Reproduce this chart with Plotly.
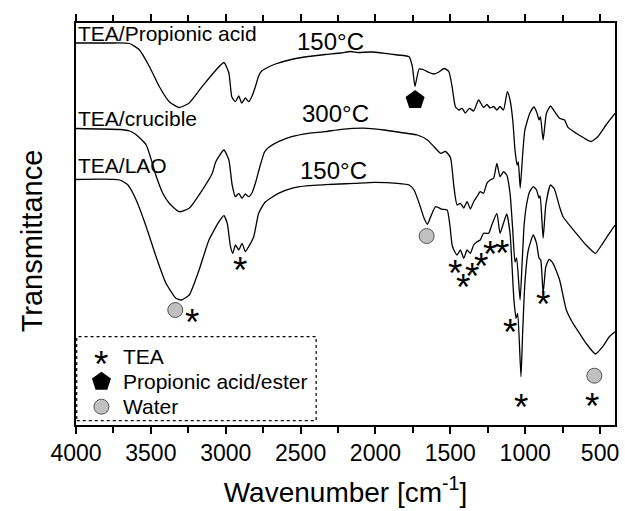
import plotly.graph_objects as go

# ---------------- data (wavenumber in cm-1, transmittance in a.u., offset) -------------
wn_pa = [4000, 3775, 3642, 3576, 3509, 3443, 3377, 3311, 3244, 3158, 3065, 3012, 2979, 2959,
         2935, 2913, 2893, 2869, 2847, 2827, 2802, 2780, 2760, 2727, 2668, 2562, 2449, 2336,
         2230, 2164, 2117, 2031, 1938, 1852, 1775, 1753, 1736, 1708, 1675, 1642, 1609, 1576,
         1541, 1510, 1488, 1466, 1443, 1421, 1400, 1372, 1344, 1311, 1278, 1256, 1234, 1211,
         1189, 1168, 1145, 1119, 1101, 1083, 1068, 1054, 1046, 1033, 1017, 1002, 969, 942,
         924, 907, 898, 880, 858, 831, 803, 770, 737, 714, 659, 604, 560, 515, 460, 400]
t_pa = [3.82, 3.82, 3.815, 3.75, 3.583, 3.383, 3.233, 3.175, 3.22, 3.383, 3.55, 3.625, 3.52, 3.28,
        3.233, 3.29, 3.22, 3.27, 3.233, 3.28, 3.383, 3.49, 3.54, 3.57, 3.61, 3.655, 3.685, 3.705,
        3.72, 3.735, 3.725, 3.73, 3.717, 3.70, 3.683, 3.58, 3.385, 3.56, 3.55, 3.525, 3.51, 3.53,
        3.565, 3.535, 3.383, 3.183, 3.15, 3.167, 3.12, 3.167, 3.14, 3.25, 3.175, 3.205, 3.17, 3.185,
        3.15, 3.185, 3.15, 3.333, 3.25, 3.05, 2.75, 2.60, 2.63, 2.37, 2.70, 2.95, 3.117, 3.18,
        3.133, 3.05, 3.083, 2.85, 3.117, 3.19, 3.133, 3.067, 3.05, 2.977, 2.917, 2.867, 2.835,
        2.883, 3.00, 3.115]

wn_cr = [4000, 3708, 3642, 3596, 3531, 3465, 3421, 3377, 3311, 3244, 3156, 3090, 3067, 3012,
         2979, 2957, 2935, 2913, 2891, 2869, 2847, 2825, 2802, 2769, 2741, 2714, 2648, 2560,
         2449, 2338, 2228, 2051, 1940, 1830, 1720, 1653, 1609, 1565, 1532, 1499, 1476, 1455,
         1433, 1410, 1388, 1366, 1344, 1322, 1300, 1278, 1256, 1234, 1211, 1189, 1168, 1145,
         1123, 1101, 1083, 1068, 1057, 1034, 1020, 1007, 991, 971, 946, 924, 908, 900, 880,
         862, 831, 805, 770, 747, 714, 659, 593, 531, 482, 438, 400]
t_cr = [2.965, 2.955, 2.94, 2.90, 2.80, 2.49, 2.32, 2.217, 2.133, 2.167, 2.35, 2.517, 2.63, 2.75,
        2.65, 2.40, 2.283, 2.317, 2.267, 2.31, 2.283, 2.32, 2.417, 2.60, 2.73, 2.775, 2.833, 2.883,
        2.917, 2.933, 2.957, 2.967, 2.95, 2.925, 2.90, 2.85, 2.783, 2.717, 2.735, 2.675, 2.383, 2.20,
        2.217, 2.17, 2.233, 2.16, 2.233, 2.283, 2.333, 2.317, 2.417, 2.45, 2.467, 2.617, 2.483, 2.533,
        2.50, 2.317, 1.95, 1.63, 1.67, 1.25, 1.63, 2.00, 2.20, 2.33, 2.383, 2.35, 2.27, 2.29, 1.87,
        2.20, 2.40, 2.36, 2.18, 2.083, 2.017, 1.917, 1.80, 1.717, 1.817, 1.917, 2.00]

wn_lao = [4000, 3708, 3653, 3598, 3531, 3465, 3399, 3333, 3297, 3244, 3178, 3112, 3045, 3012,
          2990, 2968, 2953, 2935, 2913, 2891, 2869, 2847, 2813, 2780, 2736, 2648, 2560, 2449,
          2338, 2139, 2007, 1852, 1775, 1742, 1708, 1675, 1653, 1631, 1598, 1554, 1521, 1503,
          1488, 1476, 1455, 1433, 1410, 1388, 1366, 1344, 1322, 1300, 1278, 1244, 1223, 1189,
          1168, 1145, 1123, 1101, 1075, 1061, 1050, 1028, 1017, 1002, 979, 946, 924, 907, 896,
          880, 862, 840, 814, 770, 725, 681, 637, 593, 531, 482, 438, 400]
t_lao = [2.455, 2.45, 2.40, 2.25, 1.983, 1.683, 1.417, 1.267, 1.25, 1.30, 1.55, 1.85, 2.033, 2.093,
         2.017, 1.783, 1.717, 1.80, 1.75, 1.817, 1.733, 1.783, 1.883, 2.117, 2.23, 2.317, 2.367, 2.393,
         2.403, 2.417, 2.427, 2.417, 2.40, 2.35, 2.217, 2.067, 2.007, 2.083, 2.183, 2.157, 2.15, 2.00,
         1.80, 1.75, 1.70, 1.75, 1.667, 1.75, 1.717, 1.80, 1.833, 1.85, 1.917, 1.917, 2.00, 2.117,
         1.917, 2.017, 2.11, 1.917, 1.25, 1.067, 1.117, 0.483, 0.917, 1.417, 1.75, 1.90, 1.817, 1.667,
         1.65, 1.317, 1.583, 1.657, 1.617, 1.45, 1.15, 1.017, 0.917, 0.817, 0.71, 0.783, 0.883, 0.933]

# band assignment marks
tea_wn = [3226, 2902, 1466, 1415, 1355, 1295, 1234, 1156, 880, 1101, 1028, 555]
tea_t = [1.107, 1.623, 1.60, 1.457, 1.567, 1.667, 1.783, 1.80, 1.29, 1.01, 0.26, 0.267]
acid_wn = [1735]
acid_t = [3.25]
water_wn = [3337, 1658, 538]
water_t = [1.15, 1.89, 0.493]

curve_labels = ["TEA/Propionic acid", "TEA/crucible", "TEA/LAO"]
curve_label_t = [3.92, 3.067, 2.60]
temp_labels = ["150°C", "300°C", "150°C"]
temp_wn = [2300, 2267, 2277]
temp_t = [3.833, 3.117, 2.55]

legend_names = ["TEA", "Propionic acid/ester", "Water"]
legend_t = [0.683, 0.433, 0.183]

x_ticks = [4000, 3500, 3000, 2500, 2000, 1500, 1000, 500]

FONT = "Liberation Sans, Arial, sans-serif"
STAR_SIZE = 37
STAR_SHIFT = -8

fig = go.Figure()
for wn, t in [(wn_pa, t_pa), (wn_cr, t_cr), (wn_lao, t_lao)]:
    fig.add_trace(go.Scatter(x=wn, y=t, mode="lines",
                             line=dict(color="black", width=1.3, shape="spline", smoothing=0.5),
                             showlegend=False, hoverinfo="skip"))

# markers
fig.add_trace(go.Scatter(x=acid_wn, y=acid_t, mode="markers", showlegend=False,
                         marker=dict(symbol="pentagon", size=20, color="black")))
fig.add_trace(go.Scatter(x=water_wn, y=water_t, mode="markers", showlegend=False,
                         marker=dict(symbol="circle", size=15, color="#c0c0c0",
                                     line=dict(color="#555555", width=1))))

annotations = []
for w, t in zip(tea_wn, tea_t):
    annotations.append(dict(x=w, y=t, text="*", showarrow=False, yshift=STAR_SHIFT,
                            font=dict(family=FONT, size=STAR_SIZE, color="black")))
for lab, t in zip(curve_labels, curve_label_t):
    annotations.append(dict(x=4000, y=t, text=lab, showarrow=False, xanchor="left", xshift=0,
                            font=dict(family=FONT, size=21, color="black")))
for lab, w, t in zip(temp_labels, temp_wn, temp_t):
    annotations.append(dict(x=w, y=t, text=lab, showarrow=False,
                            font=dict(family=FONT, size=24, color="black")))

# legend (custom, dotted box)
leg_sym_wn = 3830
leg_txt_wn = 3700
annotations.append(dict(x=leg_sym_wn, y=legend_t[0], text="*", showarrow=False, yshift=STAR_SHIFT,
                        font=dict(family=FONT, size=STAR_SIZE, color="black")))
fig.add_trace(go.Scatter(x=[leg_sym_wn], y=[legend_t[1]], mode="markers", showlegend=False,
                         marker=dict(symbol="pentagon", size=20, color="black")))
fig.add_trace(go.Scatter(x=[leg_sym_wn], y=[legend_t[2]], mode="markers", showlegend=False,
                         marker=dict(symbol="circle", size=15, color="#c0c0c0",
                                     line=dict(color="#555555", width=1))))
for lab, t in zip(legend_names, legend_t):
    annotations.append(dict(x=leg_txt_wn, y=t, text=lab, showarrow=False, xanchor="left",
                            font=dict(family=FONT, size=21, color="black")))

# y-axis title placed as annotation (sits lower than the axis centre in the reference)
annotations.append(dict(xref="paper", yref="paper", x=-0.081, y=0.4577, text="Transmittance",
                        textangle=-90, showarrow=False, xanchor="center", yanchor="middle",
                        font=dict(family=FONT, size=29, color="black")))

shapes = [dict(type="rect", xref="x", yref="y", x0=3995, x1=2396, y0=0.043, y1=0.883,
               line=dict(color="black", width=1.2, dash="dot"))]

fig.update_layout(
    width=625, height=511,
    margin=dict(l=76, r=6, t=23, b=86),
    paper_bgcolor="white", plot_bgcolor="white",
    font=dict(family=FONT, color="black"),
    annotations=annotations, shapes=shapes,
    showlegend=False,
)
fig.update_xaxes(range=[4000, 400], autorange=False, tickmode="array", tickvals=x_ticks,
                 ticks="outside", ticklen=7, tickwidth=1.5, tickcolor="black",
                 minor=dict(ticks="outside", ticklen=6, tickwidth=1.5, tickcolor="black",
                            dtick=250, tick0=0),
                 showline=True, linewidth=1.6, linecolor="black", mirror="allticks",
                 showgrid=False, zeroline=False,
                 tickfont=dict(family=FONT, size=23, color="black"),
                 title=dict(text="Wavenumber [cm<sup>-1</sup>]",
                            font=dict(family=FONT, size=28, color="black"), standoff=17))
fig.update_yaxes(range=[0, 4.02], autorange=False, showticklabels=False, ticks="",
                 showline=True, linewidth=1.6, linecolor="black", mirror=True,
                 showgrid=False, zeroline=False)

fig.write_html("out.html")
